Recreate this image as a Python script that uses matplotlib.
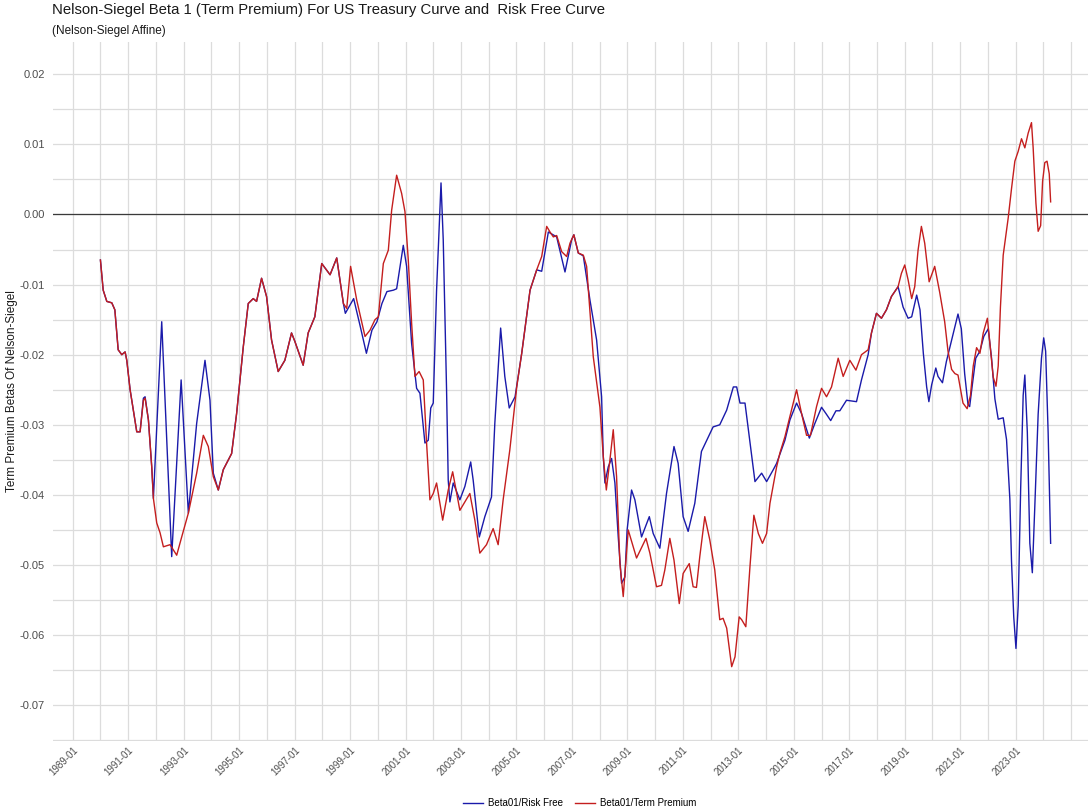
import matplotlib
matplotlib.use("Agg")
import matplotlib.pyplot as plt
from matplotlib.lines import Line2D
import numpy as np

plt.rcParams['font.family'] = ['Liberation Sans', 'DejaVu Sans']

# Beta01 / Term Premium (decimal years, value)
tp_years = [1990.00, 1990.10, 1990.23, 1990.41, 1990.52, 1990.64, 1990.77, 1990.89, 1990.95, 1991.07,
            1991.31, 1991.43, 1991.55, 1991.61, 1991.73, 1991.85, 1991.91, 1992.03, 1992.15, 1992.27,
            1992.51, 1992.75, 1992.93, 1993.17, 1993.47, 1993.71, 1993.89, 1994.07, 1994.25, 1994.43,
            1994.73, 1994.91, 1995.15, 1995.33, 1995.51, 1995.63, 1995.81, 1995.99, 1996.17, 1996.41,
            1996.65, 1996.89, 1997.01, 1997.31, 1997.49, 1997.73, 1997.98, 1998.28, 1998.52, 1998.76,
            1998.88, 1999.02, 1999.24, 1999.54, 1999.72, 1999.90, 2000.02, 2000.20, 2000.38, 2000.50,
            2000.68, 2000.86, 2000.98, 2001.10, 2001.22, 2001.34, 2001.49, 2001.64, 2001.76, 2001.88,
            2002.00, 2002.12, 2002.34, 2002.54, 2002.70, 2002.96, 2003.32, 2003.50, 2003.68, 2003.92,
            2004.16, 2004.34, 2004.52, 2004.76, 2005.01, 2005.19, 2005.49, 2005.73, 2005.91, 2006.09,
            2006.21, 2006.33, 2006.45, 2006.63, 2006.81, 2006.93, 2007.07, 2007.23, 2007.41, 2007.53,
            2007.77, 2008.01, 2008.13, 2008.24, 2008.37, 2008.49, 2008.61, 2008.73, 2008.85, 2009.03,
            2009.33, 2009.67, 2009.81, 2010.05, 2010.23, 2010.35, 2010.53, 2010.68, 2010.87, 2011.01,
            2011.23, 2011.37, 2011.49, 2011.61, 2011.79, 2011.97, 2012.15, 2012.33, 2012.45, 2012.58,
            2012.76, 2012.88, 2013.03, 2013.12, 2013.27, 2013.42, 2013.56, 2013.72, 2013.87, 2014.02,
            2014.14, 2014.38, 2014.50, 2014.68, 2014.86, 2015.10, 2015.28, 2015.46, 2015.60, 2015.82,
            2016.00, 2016.18, 2016.36, 2016.60, 2016.78, 2017.02, 2017.24, 2017.44, 2017.68, 2017.80,
            2017.98, 2018.16, 2018.34, 2018.52, 2018.76, 2018.88, 2019.00, 2019.12, 2019.25, 2019.36,
            2019.48, 2019.60, 2019.72, 2019.88, 2020.08, 2020.26, 2020.44, 2020.56, 2020.69, 2020.81,
            2020.92, 2021.10, 2021.25, 2021.37, 2021.47, 2021.59, 2021.71, 2021.83, 2021.98, 2022.07,
            2022.19, 2022.29, 2022.37, 2022.45, 2022.55, 2022.73, 2022.85, 2022.97, 2023.09, 2023.21,
            2023.33, 2023.45, 2023.57, 2023.63, 2023.73, 2023.81, 2023.90, 2023.97, 2024.05, 2024.13,
            2024.21, 2024.26]
tp_vals = [-0.0065, -0.0108, -0.0124, -0.0126, -0.0136, -0.0193, -0.0200, -0.0196, -0.0208, -0.0250,
           -0.0310, -0.0310, -0.0265, -0.0262, -0.0293, -0.0360, -0.0405, -0.0440, -0.0454, -0.0474,
           -0.0471, -0.0486, -0.0460, -0.0426, -0.0369, -0.0315, -0.0331, -0.0374, -0.0393, -0.0364,
           -0.0341, -0.0284, -0.0189, -0.0127, -0.0120, -0.0124, -0.0091, -0.0117, -0.0179, -0.0224,
           -0.0208, -0.0169, -0.0181, -0.0215, -0.0169, -0.0146, -0.0070, -0.0086, -0.0062, -0.0127,
           -0.0134, -0.0074, -0.0122, -0.0174, -0.0165, -0.0150, -0.0146, -0.0070, -0.0051, 0.0006,
           0.0056, 0.0030, 0.0004, -0.0065, -0.0155, -0.0231, -0.0224, -0.0236, -0.0326, -0.0407,
           -0.0398, -0.0383, -0.0436, -0.0393, -0.0367, -0.0422, -0.0398, -0.0436, -0.0483, -0.0471,
           -0.0448, -0.0471, -0.0407, -0.0336, -0.0246, -0.0198, -0.0108, -0.0079, -0.0060, -0.0017,
           -0.0025, -0.0032, -0.0030, -0.0053, -0.0060, -0.0041, -0.0029, -0.0055, -0.0058, -0.0074,
           -0.0203, -0.0275, -0.0345, -0.0393, -0.0350, -0.0307, -0.0374, -0.0498, -0.0545, -0.0450,
           -0.0490, -0.0462, -0.0483, -0.0531, -0.0529, -0.0507, -0.0462, -0.0493, -0.0555, -0.0512,
           -0.0498, -0.0531, -0.0532, -0.0488, -0.0431, -0.0464, -0.0507, -0.0578, -0.0576, -0.0590,
           -0.0645, -0.0631, -0.0574, -0.0578, -0.0588, -0.0502, -0.0429, -0.0455, -0.0469, -0.0455,
           -0.0412, -0.0360, -0.0340, -0.0317, -0.0288, -0.0250, -0.0284, -0.0315, -0.0315, -0.0274,
           -0.0248, -0.0260, -0.0246, -0.0205, -0.0231, -0.0208, -0.0222, -0.0200, -0.0193, -0.0169,
           -0.0141, -0.0148, -0.0136, -0.0117, -0.0103, -0.0084, -0.0072, -0.0093, -0.0120, -0.0103,
           -0.0051, -0.0017, -0.0041, -0.0096, -0.0074, -0.0111, -0.0153, -0.0195, -0.0221, -0.0227,
           -0.0229, -0.0269, -0.0277, -0.0258, -0.0216, -0.0190, -0.0198, -0.0169, -0.0148, -0.0184,
           -0.0232, -0.0245, -0.0216, -0.0132, -0.0058, -0.0005, 0.0037, 0.0076, 0.0090, 0.0108,
           0.0095, 0.0116, 0.0131, 0.0095, 0.0016, -0.0024, -0.0016, 0.0047, 0.0074, 0.0076,
           0.0058, 0.0018]

# Beta01 / Risk Free (decimal years, value)
rf_years = [1990.00, 1990.10, 1990.23, 1990.41, 1990.52, 1990.64, 1990.77, 1990.89, 1990.95, 1991.07,
            1991.31, 1991.43, 1991.55, 1991.61, 1991.73, 1991.85, 1991.91, 1992.21, 1992.57, 1992.91,
            1993.17, 1993.47, 1993.77, 1993.95, 1994.07, 1994.25, 1994.43, 1994.73, 1994.91, 1995.15,
            1995.33, 1995.51, 1995.63, 1995.81, 1995.99, 1996.17, 1996.41, 1996.65, 1996.89, 1997.01,
            1997.31, 1997.49, 1997.73, 1997.98, 1998.28, 1998.52, 1998.76, 1998.83, 1999.13, 1999.37,
            1999.59, 1999.79, 1999.97, 2000.15, 2000.33, 2000.56, 2000.68, 2000.92, 2001.04, 2001.22,
            2001.40, 2001.52, 2001.70, 2001.82, 2001.91, 2002.00, 2002.12, 2002.28, 2002.36, 2002.48,
            2002.54, 2002.60, 2002.72, 2002.96, 2003.14, 2003.35, 2003.44, 2003.66, 2003.86, 2004.10,
            2004.22, 2004.43, 2004.58, 2004.74, 2004.95, 2005.19, 2005.49, 2005.73, 2005.91, 2006.15,
            2006.45, 2006.75, 2006.99, 2007.07, 2007.23, 2007.41, 2007.65, 2007.89, 2008.07, 2008.13,
            2008.19, 2008.31, 2008.43, 2008.55, 2008.67, 2008.79, 2008.91, 2008.99, 2009.15, 2009.27,
            2009.51, 2009.79, 2009.93, 2010.17, 2010.41, 2010.68, 2010.83, 2011.01, 2011.19, 2011.43,
            2011.67, 2012.09, 2012.33, 2012.58, 2012.82, 2012.94, 2013.06, 2013.24, 2013.60, 2013.84,
            2014.02, 2014.26, 2014.38, 2014.68, 2014.86, 2015.10, 2015.28, 2015.56, 2015.76, 2016.00,
            2016.16, 2016.33, 2016.52, 2016.66, 2016.90, 2017.26, 2017.44, 2017.68, 2017.80, 2017.98,
            2018.16, 2018.34, 2018.52, 2018.76, 2018.94, 2019.12, 2019.25, 2019.43, 2019.55, 2019.67,
            2019.79, 2019.87, 2019.97, 2020.12, 2020.20, 2020.36, 2020.50, 2020.69, 2020.92, 2021.04,
            2021.16, 2021.28, 2021.34, 2021.44, 2021.56, 2021.71, 2021.85, 2022.01, 2022.13, 2022.25,
            2022.37, 2022.55, 2022.67, 2022.79, 2022.85, 2022.93, 2023.01, 2023.09, 2023.18, 2023.27,
            2023.33, 2023.42, 2023.51, 2023.60, 2023.69, 2023.81, 2023.93, 2024.01, 2024.08, 2024.17,
            2024.26]
rf_vals = [-0.0065, -0.0108, -0.0124, -0.0126, -0.0136, -0.0193, -0.0200, -0.0196, -0.0208, -0.0250,
           -0.0310, -0.0310, -0.0262, -0.0260, -0.0293, -0.0360, -0.0405, -0.0153, -0.0488, -0.0236,
           -0.0426, -0.0298, -0.0208, -0.0265, -0.0369, -0.0393, -0.0364, -0.0341, -0.0284, -0.0189,
           -0.0127, -0.0120, -0.0124, -0.0091, -0.0117, -0.0179, -0.0224, -0.0208, -0.0169, -0.0181,
           -0.0215, -0.0169, -0.0146, -0.0070, -0.0086, -0.0062, -0.0127, -0.0141, -0.0120, -0.0160,
           -0.0198, -0.0165, -0.0153, -0.0127, -0.0110, -0.0108, -0.0106, -0.0044, -0.0074, -0.0184,
           -0.0248, -0.0255, -0.0326, -0.0322, -0.0276, -0.0269, -0.0108, 0.0045, -0.0036, -0.0250,
           -0.0379, -0.0410, -0.0383, -0.0407, -0.0388, -0.0353, -0.0379, -0.0460, -0.0431, -0.0403,
           -0.0298, -0.0162, -0.0231, -0.0276, -0.0260, -0.0198, -0.0108, -0.0079, -0.0081, -0.0025,
           -0.0032, -0.0082, -0.0036, -0.0029, -0.0055, -0.0059, -0.0122, -0.0179, -0.0260, -0.0345,
           -0.0383, -0.0360, -0.0348, -0.0383, -0.0460, -0.0526, -0.0517, -0.0450, -0.0393, -0.0407,
           -0.0460, -0.0431, -0.0455, -0.0476, -0.0398, -0.0331, -0.0355, -0.0431, -0.0452, -0.0412,
           -0.0338, -0.0303, -0.0300, -0.0279, -0.0246, -0.0246, -0.0269, -0.0269, -0.0381, -0.0369,
           -0.0381, -0.0364, -0.0355, -0.0322, -0.0293, -0.0269, -0.0284, -0.0319, -0.0298, -0.0275,
           -0.0284, -0.0294, -0.0280, -0.0280, -0.0265, -0.0267, -0.0236, -0.0200, -0.0169, -0.0141,
           -0.0148, -0.0136, -0.0117, -0.0103, -0.0132, -0.0148, -0.0146, -0.0115, -0.0136, -0.0198,
           -0.0246, -0.0267, -0.0243, -0.0219, -0.0231, -0.0240, -0.0210, -0.0179, -0.0142, -0.0163,
           -0.0227, -0.0271, -0.0274, -0.0242, -0.0205, -0.0195, -0.0174, -0.0163, -0.0205, -0.0263,
           -0.0292, -0.0290, -0.0321, -0.0406, -0.0495, -0.0574, -0.0619, -0.0558, -0.0390, -0.0258,
           -0.0229, -0.0311, -0.0469, -0.0511, -0.0416, -0.0285, -0.0205, -0.0176, -0.0195, -0.0311,
           -0.0469]

major_years = list(range(1989, 2024, 2))
minor_years = [y for y in range(1988, 2027) if y not in major_years]
tick_labels = [f"{y}-01" for y in major_years]
y_ticks = [-0.07, -0.06, -0.05, -0.04, -0.03, -0.02, -0.01, 0.00, 0.01, 0.02]

blue = '#1a1aaa'
red = '#c41e1e'
grid_col = '#dcdcdc'

W, H = 1088, 811
fig = plt.figure(figsize=(W / 100, H / 100), dpi=100)
ax = fig.add_axes([53 / W, 1 - 741 / H, (1100 - 53) / W, (741 - 42) / H])

ax.set_xticks(major_years)
ax.set_xticklabels(tick_labels, rotation=45, ha='right', rotation_mode='anchor')
ax.set_xticks(minor_years, minor=True)
ax.set_yticks(y_ticks)
ax.set_yticklabels([f"{v:.2f}" for v in y_ticks])
ax.set_yticks(np.arange(-0.075, 0.025, 0.01), minor=True)

# limits after the ticks, so the outer minor ticks do not widen the view
ax.set_xlim(1988.29, 2026.04)
ax.set_ylim(-0.0751, 0.0246)

ax.grid(True, which='both', color=grid_col, linewidth=0.9)
ax.set_axisbelow(True)
for s in ax.spines.values():
    s.set_visible(False)
ax.tick_params(which='both', length=0)
ax.tick_params(axis='y', labelsize=8, labelcolor='#4d4d4d', pad=6)
ax.tick_params(axis='x', labelsize=7, labelcolor='#4d4d4d', pad=3)

ax.axhline(0, color='#3a3a3a', linewidth=0.9, zorder=2)
ax.plot(rf_years, rf_vals, color=blue, linewidth=1.0, zorder=3)
ax.plot(tp_years, tp_vals, color=red, linewidth=1.0, zorder=4)

ax.set_ylabel("Term Premium Betas Of Nelson-Siegel", fontsize=8.5, color='#1a1a1a')
ax.yaxis.set_label_coords(-0.0334, 0.5)

fig.text(52 / W, 1 - 3 / H, "Nelson-Siegel Beta 1 (Term Premium) For US Treasury Curve and  Risk Free Curve",
         fontsize=10.7, va='top', ha='left', color='#1a1a1a')
fig.text(52 / W, 1 - 25 / H, "(Nelson-Siegel Affine)", fontsize=8.5, va='top', ha='left', color='#1a1a1a')

handles = [Line2D([], [], color=blue, linewidth=1.0), Line2D([], [], color=red, linewidth=1.0)]
fig.legend(handles, ["Beta01/Risk Free", "Beta01/Term Premium"], loc='center', ncol=2,
           bbox_to_anchor=(580 / W, 1 - 803 / H), frameon=False, fontsize=7,
           handlelength=2.0, columnspacing=1.2, handletextpad=0.6)

fig.savefig("out.png", dpi=100)
